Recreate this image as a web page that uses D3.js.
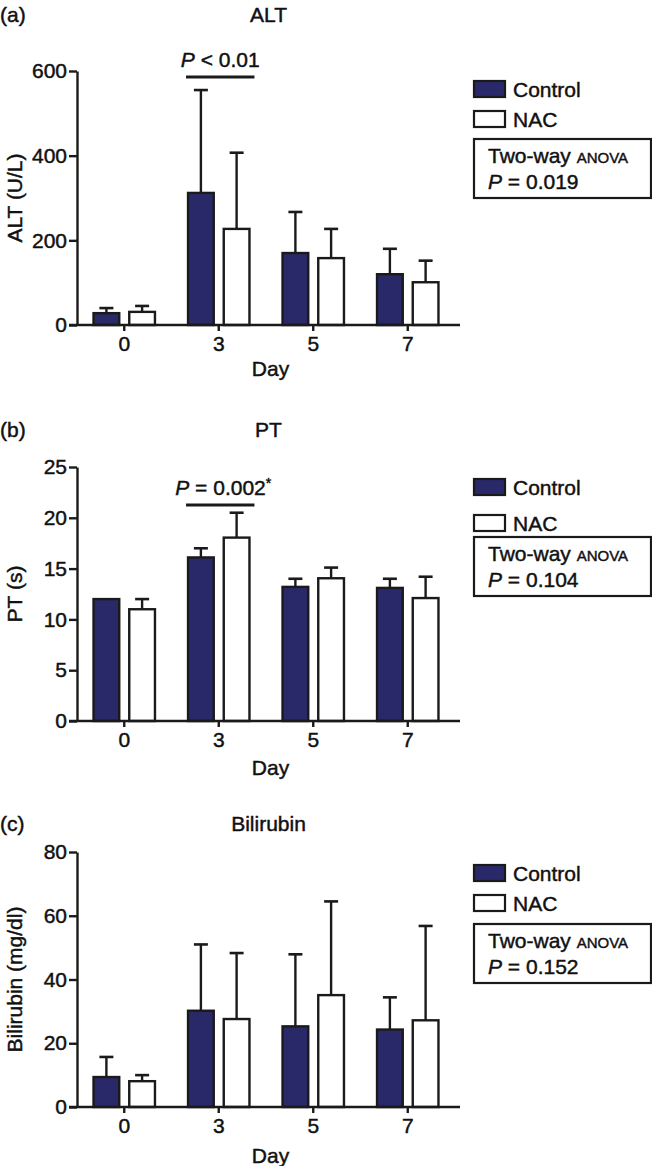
<!DOCTYPE html>
<html>
<head>
<meta charset="utf-8">
<script src="https://cdn.jsdelivr.net/npm/d3@7"></script>
<style>
  body { margin: 0; background: #fff; }
  svg { display: block; font-family: "Liberation Sans", Arial, Helvetica, sans-serif; }
  svg text { stroke: #111; stroke-width: 0.45px; }
  .axis path, .axis line { stroke: #1a1a1a; stroke-width: 2.4; }
  .axis text { font-size: 21px; fill: #111; }
</style>
</head>
<body>
<svg id="chart" width="652" height="1166"></svg>
<script>
'use strict';
// values (mean and upward SD bar)
const days = ["0", "3", "5", "7"];
const groups = ["Control", "NAC"];

const altControl = [28, 312, 170, 120];
const altControlSD = [12, 243, 97, 60];
const altNac = [31, 227, 158, 101];
const altNacSD = [14, 180, 69, 51];

const ptControl = [12.0, 16.1, 13.2, 13.1];
const ptControlSD = [0, 0.9, 0.8, 0.9];
const ptNac = [11.0, 18.05, 14.05, 12.1];
const ptNacSD = [1.0, 2.45, 1.05, 2.1];

const biliControl = [9.4, 30.2, 25.3, 24.3];
const biliControlSD = [6.3, 20.8, 22.6, 10.1];
const biliNac = [8.1, 27.6, 35.1, 27.2];
const biliNacSD = [1.9, 20.7, 29.4, 29.6];

const altTicks = [0, 200, 400, 600];
const ptTicks = [0, 5, 10, 15, 20, 25];
const biliTicks = [0, 20, 40, 60, 80];

const panels = [
    { tag: "(a)", title: "ALT", ylabel: "ALT (U/L)", max: 600, ticks: altTicks,
      control: altControl, controlSD: altControlSD, nac: altNac, nacSD: altNacSD,
      anova: "0.019", sig: { day: "3", text: [["P", true], [" < 0.01", false]], lineY: 77 },
      top: 71, bottom: 325, titleY: 14, dayY: 368, legend: [81, 111, 139] },
    { tag: "(b)", title: "PT", ylabel: "PT (s)", max: 25, ticks: ptTicks,
      control: ptControl, controlSD: ptControlSD, nac: ptNac, nacSD: ptNacSD,
      anova: "0.104", sig: { day: "3", text: [["P", true], [" = 0.002", false]], star: true, lineY: 505 },
      top: 467, bottom: 721, titleY: 429, dayY: 767, legend: [479, 515, 537] },
    { tag: "(c)", title: "Bilirubin", ylabel: "Bilirubin (mg/dl)", max: 80, ticks: biliTicks,
      control: biliControl, controlSD: biliControlSD, nac: biliNac, nacSD: biliNacSD,
      anova: "0.152", sig: null,
      top: 852, bottom: 1107, titleY: 823, dayY: 1155, legend: [865, 895, 924] },
];

const navy = "#29296a";
const ink = "#1a1a1a";
const left = 77, right = 455;

const svg = d3.select("#chart");

function label(g, x, y, txt) {
    return g.append("text")
        .attr("x", x).attr("y", y)
        .attr("dominant-baseline", "central")
        .style("font-size", "21px").attr("fill", "#111")
        .text(txt);
}

function drawPanel(p) {
    const g = svg.append("g");

    const x0 = d3.scaleBand().domain(days).range([left, right])
        .paddingInner(0.35).paddingOuter(0.175);
    const x1 = d3.scaleBand().domain(groups).range([0, x0.bandwidth()]).paddingInner(0.28);
    const y = d3.scaleLinear().domain([0, p.max]).range([p.bottom, p.top]);

    const rows = [];
    days.forEach((d, i) => {
        rows.push({ day: d, group: "Control", v: p.control[i], sd: p.controlSD[i] });
        rows.push({ day: d, group: "NAC", v: p.nac[i], sd: p.nacSD[i] });
    });

    // error bars first so the bar outline sits on top
    const capW = 14;
    rows.filter(r => r.sd > 0).forEach(r => {
        const cx = x0(r.day) + x1(r.group) + x1.bandwidth() / 2;
        g.append("line")
            .attr("x1", cx).attr("x2", cx)
            .attr("y1", y(r.v)).attr("y2", y(r.v + r.sd))
            .attr("stroke", ink).attr("stroke-width", 2.4);
        g.append("line")
            .attr("x1", cx - capW / 2).attr("x2", cx + capW / 2)
            .attr("y1", y(r.v + r.sd)).attr("y2", y(r.v + r.sd))
            .attr("stroke", ink).attr("stroke-width", 2.6);
    });

    g.selectAll(".bar")
        .data(rows)
        .enter().append("rect")
            .attr("x", r => x0(r.day) + x1(r.group))
            .attr("y", r => y(r.v))
            .attr("width", x1.bandwidth())
            .attr("height", r => y(0) - y(r.v))
            .attr("fill", r => r.group == "Control" ? navy : "#fff")
            .attr("stroke", ink)
            .attr("stroke-width", 2.4);

    // y axis
    g.append("g")
        .attr("class", "axis")
        .attr("transform", `translate(${left},0)`)
        .call(d3.axisLeft(y).tickValues(p.ticks).tickSize(8).tickPadding(2).tickSizeOuter(0));

    // x axis
    const xa = g.append("g")
        .attr("class", "axis")
        .attr("transform", `translate(0,${p.bottom})`)
        .call(d3.axisBottom(x0).tickSize(6).tickPadding(5).tickSizeOuter(0));
    xa.select(".domain").remove();
    xa.append("line")
        .attr("x1", left - 8).attr("x2", 460)
        .attr("stroke", ink).attr("stroke-width", 2.4);

    // titles
    label(g, 0, p.titleY, p.tag);
    label(g, (left + 460) / 2, p.titleY, p.title).attr("text-anchor", "middle");
    label(g, (left + 460) / 2 + 2, p.dayY, "Day").attr("text-anchor", "middle");
    g.append("text")
        .attr("transform", `translate(14,${(p.top + p.bottom) / 2}) rotate(-90)`)
        .attr("text-anchor", "middle").attr("dominant-baseline", "central")
        .style("font-size", "21px").attr("fill", "#111")
        .text(p.ylabel);

    // significance bracket
    if (p.sig) {
        const bx0 = x0(p.sig.day) - 2;
        const bx1 = x0(p.sig.day) + x0.bandwidth() + 5;
        const ly = p.sig.lineY;
        g.append("line")
            .attr("x1", bx0).attr("x2", bx1)
            .attr("y1", ly).attr("y2", ly)
            .attr("stroke", ink).attr("stroke-width", 2.8);
        const t = g.append("text")
            .attr("x", (bx0 + bx1) / 2 + (p.sig.star ? 3 : 0)).attr("y", ly - 10)
            .attr("text-anchor", "middle")
            .style("font-size", "21px").attr("fill", "#111");
        p.sig.text.forEach(([s, it]) => t.append("tspan").style("font-style", it ? "italic" : "normal").text(s));
        if (p.sig.star) t.append("tspan").attr("dy", -7).style("font-size", "14px").text("*");
    }

    // legend
    const lx = 474;
    const [yc, yn, yb] = p.legend;
    [[yc, navy, "Control"], [yn, "#fff", "NAC"]].forEach(([ly, fill, txt]) => {
        g.append("rect")
            .attr("x", lx).attr("y", ly).attr("width", 31).attr("height", 16)
            .attr("fill", fill).attr("stroke", ink).attr("stroke-width", 2.2);
        label(g, lx + 39, ly + 8, txt);
    });
    g.append("rect")
        .attr("x", lx).attr("y", yb).attr("width", 177).attr("height", 59)
        .attr("fill", "none").attr("stroke", ink).attr("stroke-width", 2.2);
    const t1 = g.append("text")
        .attr("x", lx + 14).attr("y", yb + 24)
        .style("font-size", "21px").attr("fill", "#111");
    t1.append("tspan").text("Two-way ");
    t1.append("tspan").style("font-size", "15px").text("ANOVA");
    const t2 = g.append("text")
        .attr("x", lx + 14).attr("y", yb + 50)
        .style("font-size", "21px").attr("fill", "#111");
    t2.append("tspan").style("font-style", "italic").text("P");
    t2.append("tspan").text(" = " + p.anova);
}

panels.forEach(drawPanel);
</script>
</body>
</html>
